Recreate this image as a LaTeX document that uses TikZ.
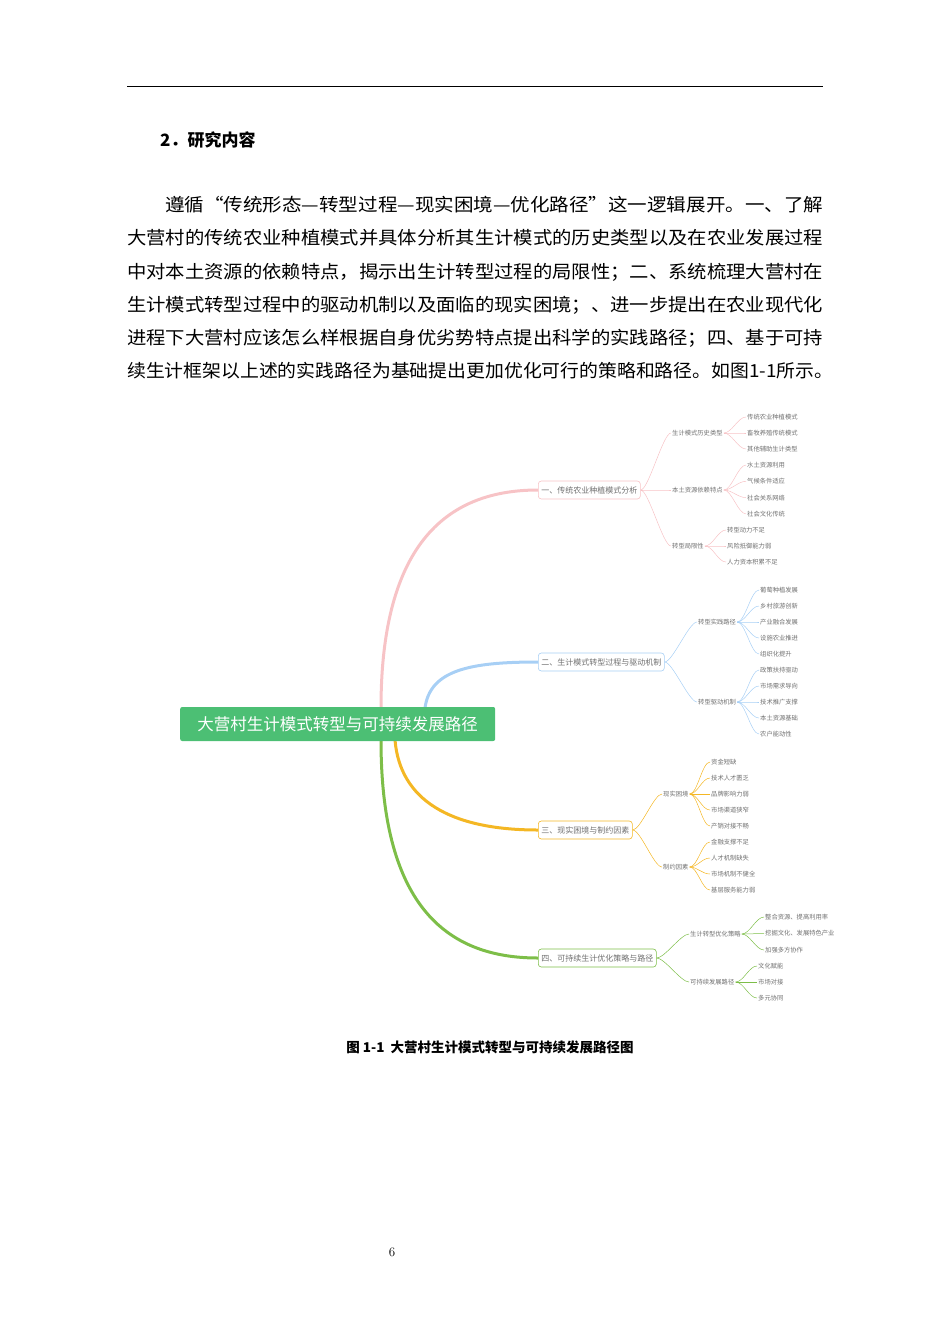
\documentclass[tikz,border=0pt]{standalone}
\usepackage{fontspec}
\usepackage{graphicx}
\newfontfamily\cjk{Noto Sans CJK SC}
\usetikzlibrary{calc}
\newcommand\jline[2]{\resizebox{#1}{\height}{#2}}
\definecolor{cpink}{HTML}{F7C3C6}
\definecolor{cblue}{HTML}{A7CFF5}
\definecolor{corange}{HTML}{F4B724}
\definecolor{cgreen}{HTML}{7DBE48}
\definecolor{rootg}{HTML}{4CBF74}
\definecolor{txtg}{HTML}{707070}
\begin{document}
\begin{tikzpicture}[x=1pt,y=-1pt,
  body/.style={anchor=west,inner sep=0pt,font=\cjk\fontsize{18}{20}\selectfont},
  br/.style={draw=#1,rounded corners=3pt,line width=0.6pt,anchor=west,inner sep=3pt,minimum height=18pt,font=\cjk\fontsize{8}{9}\selectfont,text=txtg,fill=white},
  leaf/.style={anchor=west,inner sep=1pt,font=\cjk\fontsize{6.3}{7}\selectfont,text=txtg},
  thin/.style={draw=#1,line width=0.5pt}]
\useasboundingbox (0,0) rectangle (950,1344);
\draw[line width=0.8pt] (127,86) -- (823,86);
\node[anchor=west,inner sep=0pt,font=\cjk\bfseries\fontsize{17}{19}\selectfont] (h) at (160,140) {2．研究内容};
\node[body] (p1) at (165,205) {\jline{658pt}{遵循“传统形态—转型过程—现实困境—优化路径”这一逻辑展开。一、了解}};
\node[body] (p2) at (127,238) {\jline{696pt}{大营村的传统农业种植模式并具体分析其生计模式的历史类型以及在农业发展过程}};
\node[body] (p3) at (127,272) {\jline{696pt}{中对本土资源的依赖特点，揭示出生计转型过程的局限性；二、系统梳理大营村在}};
\node[body] (p4) at (127,305) {\jline{696pt}{生计模式转型过程中的驱动机制以及面临的现实困境；、进一步提出在农业现代化}};
\node[body] (p5) at (127,338) {\jline{696pt}{进程下大营村应该怎么样根据自身优劣势特点提出科学的实践路径；四、基于可持}};
\node[body] (p6) at (127,371) {\jline{706pt}{续生计框架以上述的实践路径为基础提出更加优化可行的策略和路径。如图1-1所示。}};
% main curves
\coordinate (s1) at (381,708);
\coordinate (s2) at (425,708);
\coordinate (s3) at (395,740);
\coordinate (s4) at (381,740);
\node[br=cpink] (b1) at (538,490) {一、传统农业种植模式分析};
\node[br=cblue] (b2) at (538,662) {二、生计模式转型过程与驱动机制};
\node[br=corange] (b3) at (538,830) {三、现实困境与制约因素};
\node[br=cgreen] (b4) at (538,958) {四、可持续生计优化策略与路径};
\draw[cpink,line width=3pt] (s1) .. controls (381,540) and (450,490) .. (b1.west);
\draw[cblue,line width=3pt] (s2) .. controls (430,670) and (470,662) .. (b2.west);
\draw[corange,line width=3pt] (s3) .. controls (400,800) and (450,830) .. (b3.west);
\draw[cgreen,line width=3pt] (s4) .. controls (381,910) and (450,958) .. (b4.west);
\node[fill=rootg,rounded corners=2pt,anchor=west,minimum height=34pt,minimum width=315pt,inner sep=4pt,text=white,font=\cjk\fontsize{16.5}{18}\selectfont] (r) at (180,724) {大营村生计模式转型与可持续发展路径};
% branch 1
\node[leaf] (a1) at (671,433) {生计模式历史类型};
\node[leaf] (a2) at (671,490) {本土资源依赖特点};
\node[leaf] (a3) at (671,546) {转型局限性};
\foreach \n in {a1,a2,a3} \draw[thin=cpink] (b1.east) .. controls +(8,0) and +(-8,0) .. (\n.west);
\foreach \t [count=\i] in {传统农业种植模式,畜牧养殖传统模式,其他辅助生计类型} {\node[leaf] (a1l\i) at (746,{417+16*(\i-1)}) {\t}; \draw[thin=cpink] (a1.east) .. controls +(8,0) and +(-8,0) .. (a1l\i.west);}
\foreach \t [count=\i] in {水土资源利用,气候条件适应,社会关系网络,社会文化传统} {\node[leaf] (a2l\i) at (746,{465+16.3*(\i-1)}) {\t}; \draw[thin=cpink] (a2.east) .. controls +(8,0) and +(-8,0) .. (a2l\i.west);}
\foreach \t [count=\i] in {转型动力不足,风险抵御能力弱,人力资本积累不足} {\node[leaf] (a3l\i) at (726,{530+16*(\i-1)}) {\t}; \draw[thin=cpink] (a3.east) .. controls +(8,0) and +(-8,0) .. (a3l\i.west);}
% branch 2
\node[leaf] (c1) at (697,622) {转型实践路径};
\node[leaf] (c2) at (697,702) {转型驱动机制};
\foreach \n in {c1,c2} \draw[thin=cblue] (b2.east) .. controls +(8,0) and +(-8,0) .. (\n.west);
\foreach \t [count=\i] in {葡萄种植发展,乡村旅游创新,产业融合发展,设施农业推进,组织化提升} {\node[leaf] (c1l\i) at (759,{590+16*(\i-1)}) {\t}; \draw[thin=cblue] (c1.east) .. controls +(8,0) and +(-8,0) .. (c1l\i.west);}
\foreach \t [count=\i] in {政策扶持驱动,市场需求导向,技术推广支撑,本土资源基础,农户能动性} {\node[leaf] (c2l\i) at (759,{670+16*(\i-1)}) {\t}; \draw[thin=cblue] (c2.east) .. controls +(8,0) and +(-8,0) .. (c2l\i.west);}
% branch 3
\node[leaf] (d1) at (662,794) {现实困境};
\node[leaf] (d2) at (662,867) {制约因素};
\foreach \n in {d1,d2} \draw[thin=corange] (b3.east) .. controls +(8,0) and +(-8,0) .. (\n.west);
\foreach \t [count=\i] in {资金短缺,技术人才匮乏,品牌影响力弱,市场渠道狭窄,产销对接不畅} {\node[leaf] (d1l\i) at (710,{762+16*(\i-1)}) {\t}; \draw[thin=corange] (d1.east) .. controls +(8,0) and +(-8,0) .. (d1l\i.west);}
\foreach \t [count=\i] in {金融支撑不足,人才机制缺失,市场机制不健全,基层服务能力弱} {\node[leaf] (d2l\i) at (710,{842+16*(\i-1)}) {\t}; \draw[thin=corange] (d2.east) .. controls +(8,0) and +(-8,0) .. (d2l\i.west);}
% branch 4
\node[leaf] (e1) at (689,934) {生计转型优化策略};
\node[leaf] (e2) at (689,982) {可持续发展路径};
\foreach \n in {e1,e2} \draw[thin=cgreen] (b4.east) .. controls +(8,0) and +(-8,0) .. (\n.west);
\foreach \t [count=\i] in {整合资源、提高利用率,挖掘文化、发展特色产业,加强多方协作} {\node[leaf] (e1l\i) at (764,{917+16.5*(\i-1)}) {\t}; \draw[thin=cgreen] (e1.east) .. controls +(8,0) and +(-8,0) .. (e1l\i.west);}
\foreach \t [count=\i] in {文化赋能,市场对接,多元协同} {\node[leaf] (e2l\i) at (757,{966+16*(\i-1)}) {\t}; \draw[thin=cgreen] (e2.east) .. controls +(8,0) and +(-8,0) .. (e2l\i.west);}
% caption
\node[font=\cjk\bfseries\fontsize{13.5}{15}\selectfont,inner sep=0pt] (cap) at (490,1047) {图 1-1\ \ 大营村生计模式转型与可持续发展路径图};
\node[font=\fontsize{13}{15}\selectfont,inner sep=0pt] (pg) at (392,1252) {6};
\end{tikzpicture}
\end{document}
